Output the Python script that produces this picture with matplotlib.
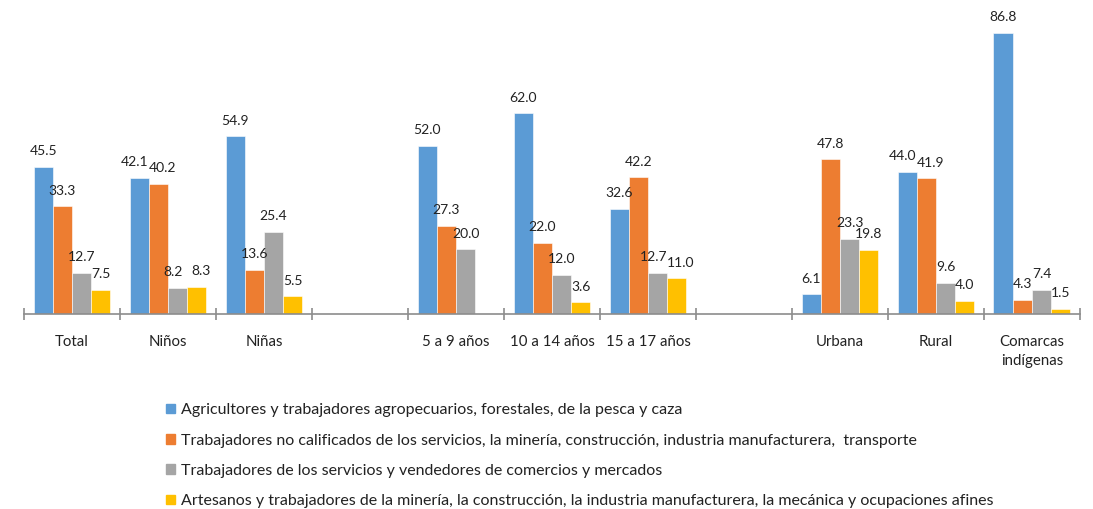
import numpy as np
import matplotlib.pyplot as plt
from matplotlib.patches import Patch

plt.rcParams['font.family'] = ['Lato', 'DejaVu Sans']

categories = ['Total', 'Niños', 'Niñas', '', '5 a 9 años', '10 a 14 años',
              '15 a 17 años', '', 'Urbana', 'Rural', 'Comarcas\nindígenas']

series_names = [
    'Agricultores y trabajadores agropecuarios, forestales, de la pesca y caza',
    'Trabajadores no calificados de los servicios, la minería, construcción, industria manufacturera,  transporte',
    'Trabajadores de los servicios y vendedores de comercios y mercados',
    'Artesanos y trabajadores de la minería, la construcción, la industria manufacturera, la mecánica y ocupaciones afines',
]

agricultores = [45.5, 42.1, 54.9, np.nan, 52.0, 62.0, 32.6, np.nan, 6.1, 44.0, 86.8]
no_calificados = [33.3, 40.2, 13.6, np.nan, 27.3, 22.0, 42.2, np.nan, 47.8, 41.9, 4.3]
servicios = [12.7, 8.2, 25.4, np.nan, 20.0, 12.0, 12.7, np.nan, 23.3, 9.6, 7.4]
artesanos = [7.5, 8.3, 5.5, np.nan, np.nan, 3.6, 11.0, np.nan, 19.8, 4.0, 1.5]

colors = ['#5B9BD5', '#ED7D31', '#A5A5A5', '#FFC000']

fig = plt.figure(figsize=(10.93, 5.09), dpi=100)
ax = fig.add_axes([0.022, 0.383, 0.966, 0.617])

x = np.arange(len(categories))
w = 0.2
all_series = [np.array(s, dtype=float) for s in
              [agricultores, no_calificados, servicios, artesanos]]
vals_2d = np.vstack(all_series)

for i, vals in enumerate(all_series):
    pos = x + (i - 1.5) * w
    ax.bar(pos, vals, w, color=colors[i], edgecolor='white', linewidth=0.4)
    for j, (px, v) in enumerate(zip(pos, vals)):
        if np.isnan(v):
            continue
        # nudge labels apart when a neighbour bar has nearly the same height
        dx = 0
        if i > 0 and abs(vals_2d[i - 1, j] - v) < 2.5:
            dx += 3
        if i < 3 and abs(vals_2d[i + 1, j] - v) < 2.5:
            dx -= 3
        ax.annotate(f'{v:.1f}', (px, v), xytext=(dx, 7), textcoords='offset points',
                    ha='center', va='bottom', fontsize=10, color='#222222')

ax.set_xlim(-0.5, len(categories) - 0.5)
ax.set_ylim(0, 97)
ax.set_yticks([])
for s in ['top', 'right', 'left']:
    ax.spines[s].set_visible(False)
ax.spines['bottom'].set_color('#8c8c8c')
ax.spines['bottom'].set_linewidth(1.2)
ax.set_xticks(np.arange(len(categories) + 1) - 0.5)
ax.set_xticklabels([])
ax.set_xticks(x, minor=True)
ax.set_xticklabels(categories, minor=True, fontsize=10.8, color='#222222',
                   linespacing=1.5)
ax.tick_params(axis='x', which='major', direction='inout', length=9,
               color='#8c8c8c', width=1.2)
ax.tick_params(axis='x', which='minor', length=0, pad=15)

handles = [Patch(color=c) for c in colors]
fig.legend(handles, series_names, loc='upper left', bbox_to_anchor=(0.139, 0.236),
           frameon=False, fontsize=11.5, handlelength=0.55, handleheight=0.55,
           handletextpad=0.4, labelspacing=1.02, labelcolor='#222222')

fig.savefig('out.png', dpi=100)
